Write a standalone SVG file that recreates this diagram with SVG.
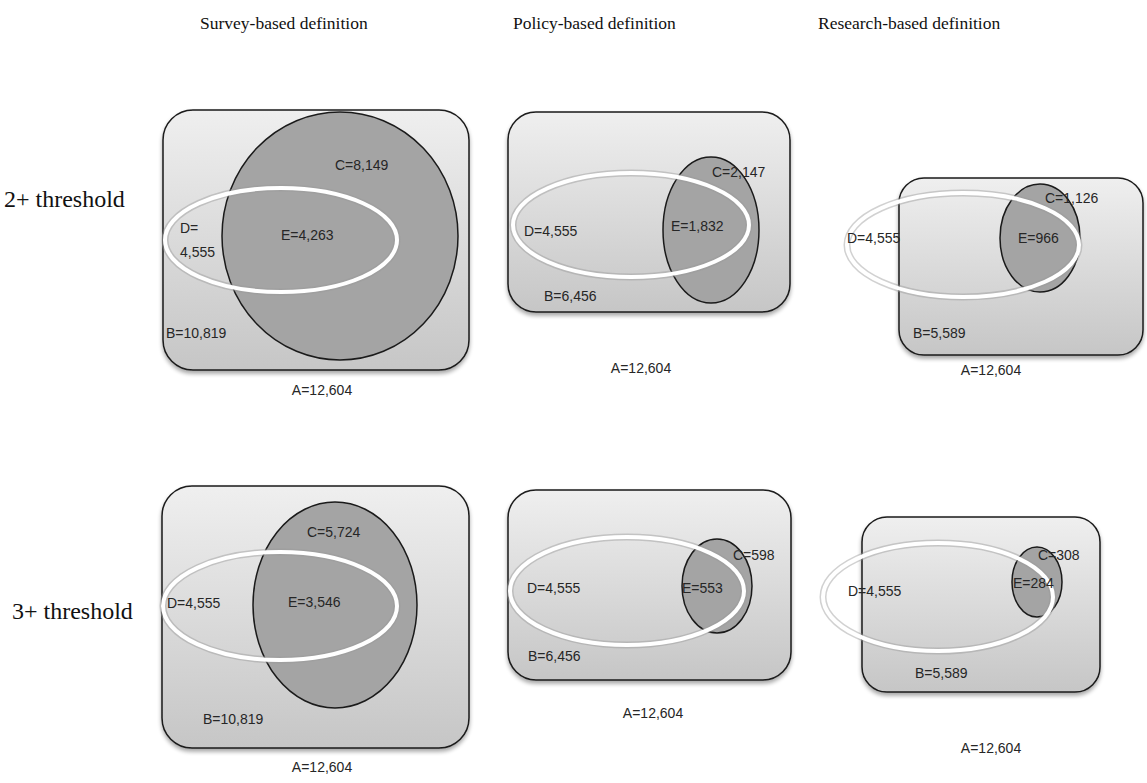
<svg xmlns="http://www.w3.org/2000/svg" width="1147" height="783" viewBox="0 0 1147 783">
<style>
.hdr{font-family:"Liberation Serif","Times New Roman",serif;font-size:17.5px;fill:#111}
.row{font-family:"Liberation Serif","Times New Roman",serif;font-size:24px;fill:#111}
.lbl{font-family:"Liberation Sans",Arial,sans-serif;font-size:14px;fill:#262626}
.box{fill:url(#boxg);stroke:#1a1a1a;stroke-width:1.5;filter:url(#sh)}
.setc{fill:#a4a4a4;stroke:#1a1a1a;stroke-width:1.5}
.setdsh{fill:none;stroke:#9a9a9a;stroke-opacity:0.45;stroke-width:7}
.setd{fill:none;stroke:#ffffff;stroke-width:4}
.mid{text-anchor:middle}
</style>
<defs>
<linearGradient id="boxg" x1="0" y1="0" x2="0" y2="1">
<stop offset="0" stop-color="#efefef"/>
<stop offset="1" stop-color="#c6c6c6"/>
</linearGradient>
<filter id="sh" x="-10%" y="-10%" width="120%" height="125%">
<feGaussianBlur in="SourceAlpha" stdDeviation="2"/>
<feOffset dx="0" dy="3" result="b"/>
<feComponentTransfer><feFuncA type="linear" slope="0.35"/></feComponentTransfer>
<feMerge><feMergeNode/><feMergeNode in="SourceGraphic"/></feMerge>
</filter>
</defs>
<rect width="1147" height="783" fill="#ffffff"/>
<g id="headers">
<text class="hdr" x="200" y="29">Survey-based definition</text>
<text class="hdr" x="513" y="29">Policy-based definition</text>
<text class="hdr" x="818" y="29">Research-based definition</text>
</g>
<g id="rowlabels">
<text class="row" x="4" y="207">2+ threshold</text>
<text class="row" x="12" y="619">3+ threshold</text>
</g>
<g id="connectors"></g>

<g id="survey-2">
<rect class="box" x="163" y="110" width="306" height="260" rx="30"/>
<ellipse class="setc" cx="340" cy="236" rx="118" ry="124"/>
<ellipse class="setdsh" cx="281" cy="240" rx="116" ry="52"/>
<ellipse class="setd" cx="281" cy="240" rx="116" ry="52"/>
<text class="lbl" x="335" y="170">C=8,149</text>
<text class="lbl" x="281" y="240">E=4,263</text>
<text class="lbl" x="180" y="233">D=</text>
<text class="lbl" x="180" y="257">4,555</text>
<text class="lbl" x="166" y="338">B=10,819</text>
<text class="lbl mid" x="322" y="395">A=12,604</text>
</g>

<g id="policy-2">
<rect class="box" x="508" y="112" width="282" height="200" rx="28"/>
<ellipse class="setc" cx="711" cy="230" rx="48" ry="73"/>
<ellipse class="setdsh" cx="631" cy="225" rx="118" ry="52"/>
<ellipse class="setd" cx="631" cy="225" rx="118" ry="52"/>
<text class="lbl" x="712" y="177">C=2,147</text>
<text class="lbl" x="524" y="236">D=4,555</text>
<text class="lbl" x="671" y="231">E=1,832</text>
<text class="lbl" x="544" y="301">B=6,456</text>
<text class="lbl mid" x="641" y="373">A=12,604</text>
</g>

<g id="research-2">
<rect class="box" x="899" y="178" width="244" height="177" rx="25"/>
<ellipse class="setc" cx="1040" cy="238" rx="40" ry="54"/>
<ellipse class="setdsh" cx="963" cy="245" rx="116" ry="52"/>
<ellipse class="setd" cx="963" cy="245" rx="116" ry="52"/>
<text class="lbl" x="1045" y="203">C=1,126</text>
<text class="lbl" x="847" y="243">D=4,555</text>
<text class="lbl" x="1018" y="243">E=966</text>
<text class="lbl" x="913" y="338">B=5,589</text>
<text class="lbl mid" x="991" y="375">A=12,604</text>
</g>

<g id="survey-3">
<rect class="box" x="162" y="486" width="307" height="262" rx="30"/>
<ellipse class="setc" cx="335" cy="605" rx="82" ry="103"/>
<ellipse class="setdsh" cx="280" cy="606" rx="117" ry="54"/>
<ellipse class="setd" cx="280" cy="606" rx="117" ry="54"/>
<text class="lbl" x="307" y="537">C=5,724</text>
<text class="lbl" x="167" y="608">D=4,555</text>
<text class="lbl" x="288" y="607">E=3,546</text>
<text class="lbl" x="203" y="724">B=10,819</text>
<text class="lbl mid" x="322" y="772">A=12,604</text>
</g>

<g id="policy-3">
<rect class="box" x="508" y="490" width="283" height="190" rx="28"/>
<ellipse class="setc" cx="717" cy="586" rx="35" ry="47"/>
<ellipse class="setdsh" cx="627" cy="591" rx="117" ry="54"/>
<ellipse class="setd" cx="627" cy="591" rx="117" ry="54"/>
<text class="lbl" x="733" y="560">C=598</text>
<text class="lbl" x="527" y="593">D=4,555</text>
<text class="lbl" x="682" y="593">E=553</text>
<text class="lbl" x="528" y="661">B=6,456</text>
<text class="lbl mid" x="653" y="718">A=12,604</text>
</g>

<g id="research-3">
<rect class="box" x="862" y="517" width="238" height="175" rx="25"/>
<ellipse class="setc" cx="1037" cy="582" rx="25" ry="35"/>
<ellipse class="setdsh" cx="938" cy="597" rx="115" ry="54"/>
<ellipse class="setd" cx="938" cy="597" rx="115" ry="54"/>
<text class="lbl" x="1038" y="560">C=308</text>
<text class="lbl" x="848" y="596">D=4,555</text>
<text class="lbl" x="1013" y="588">E=284</text>
<text class="lbl" x="915" y="678">B=5,589</text>
<text class="lbl mid" x="991" y="753">A=12,604</text>
</g>
</svg>
